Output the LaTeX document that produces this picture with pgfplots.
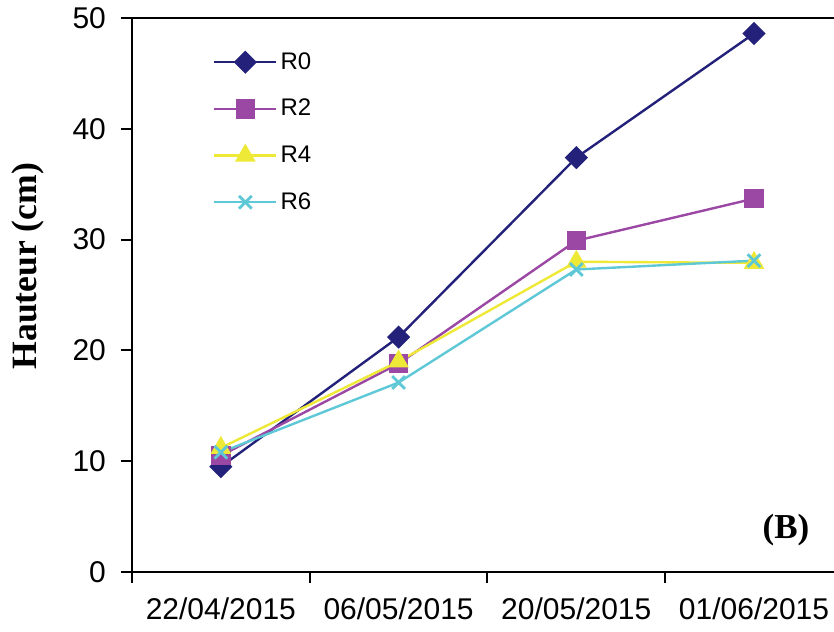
\documentclass[border=0pt]{standalone}
\usepackage{pgfplots}
\pgfplotsset{compat=1.18}
\usepackage{fontspec}
\setmainfont{Liberation Sans}
\newfontfamily\serifbf{Liberation Serif}
\definecolor{c0}{RGB}{35,33,122}
\definecolor{c2}{RGB}{155,72,165}
\definecolor{c4}{RGB}{238,232,55}
\definecolor{c6}{RGB}{95,200,215}
\begin{document}
\begin{tikzpicture}
\begin{axis}[
 name=ax,
 width=351pt, height=277pt, scale only axis,
 xmin=-0.5, xmax=3.45, ymin=0, ymax=50,
 axis x line=box, axis y line=left,
 axis line style={-, line width=1pt, black},
 xtick={0,1,2,3},
 xticklabels={22/04/2015,06/05/2015,20/05/2015,01/06/2015},
 minor xtick={-0.5,0.5,1.5,2.5},
 ytick={0,10,20,30,40,50},
 xtick pos=bottom, ytick pos=left,
 tick align=outside,
 major x tick style={draw=none},
 major tick length=5.5pt, minor tick length=5.5pt,
 every tick/.style={line width=1pt, black},
 minor x tick style={line width=1pt, black},
 /pgf/number format/assume math mode=true,
 tick label style={font=\fontsize{15pt}{18pt}\selectfont},
 xticklabel style={yshift=-4pt},
 yticklabel style={xshift=-4pt},
 ylabel={Hauteur (cm)},
 ylabel style={at={(axis description cs:-0.148,0.552)}, anchor=center, rotate=0, font=\serifbf\bfseries\fontsize{17.8pt}{20pt}\selectfont},
 clip=false,
 legend style={at={(axis description cs:0.115,0.946)}, anchor=north west, draw=none, fill=none,
   font=\fontsize{12pt}{14pt}\selectfont, row sep=9.5pt, inner sep=0pt, nodes={inner xsep=1.5pt}},
 legend cell align=left,
 legend image code/.code={\draw[mark repeat=2,mark phase=2] plot coordinates {(0pt,0pt) (15.5pt,0pt) (31pt,0pt)};},
]
\addplot[color=c0, line width=1.2pt, mark=square*, mark options={rotate=45, mark size=3.5pt, fill=c0, solid}] coordinates {(0,9.5)(1,21.2)(2,37.4)(3,48.6)};
\addplot[color=c2, line width=1.2pt, mark=square*, mark options={mark size=4.3pt, fill=c2, solid}] coordinates {(0,10.5)(1,18.8)(2,29.9)(3,33.7)};
\addplot[color=c4, line width=1.2pt, mark=triangle*, mark options={mark size=4.8pt, fill=c4, solid}] coordinates {(0,11.2)(1,19.0)(2,28.0)(3,27.9)};
\addplot[color=c6, line width=1.2pt, mark=x, mark options={mark size=4.5pt, line width=1.4pt, solid}] coordinates {(0,10.8)(1,17.1)(2,27.3)(3,28.1)};
\legend{R0,R2,R4,R6}
\node at (axis cs:3.18,3.8) {\serifbf\bfseries\fontsize{17.5pt}{20pt}\selectfont (B)};
\end{axis}
\pgfresetboundingbox
\path ([xshift=-66pt,yshift=-30pt]ax.south west) rectangle ([yshift=9pt]ax.north east);
\end{tikzpicture}
\end{document}
